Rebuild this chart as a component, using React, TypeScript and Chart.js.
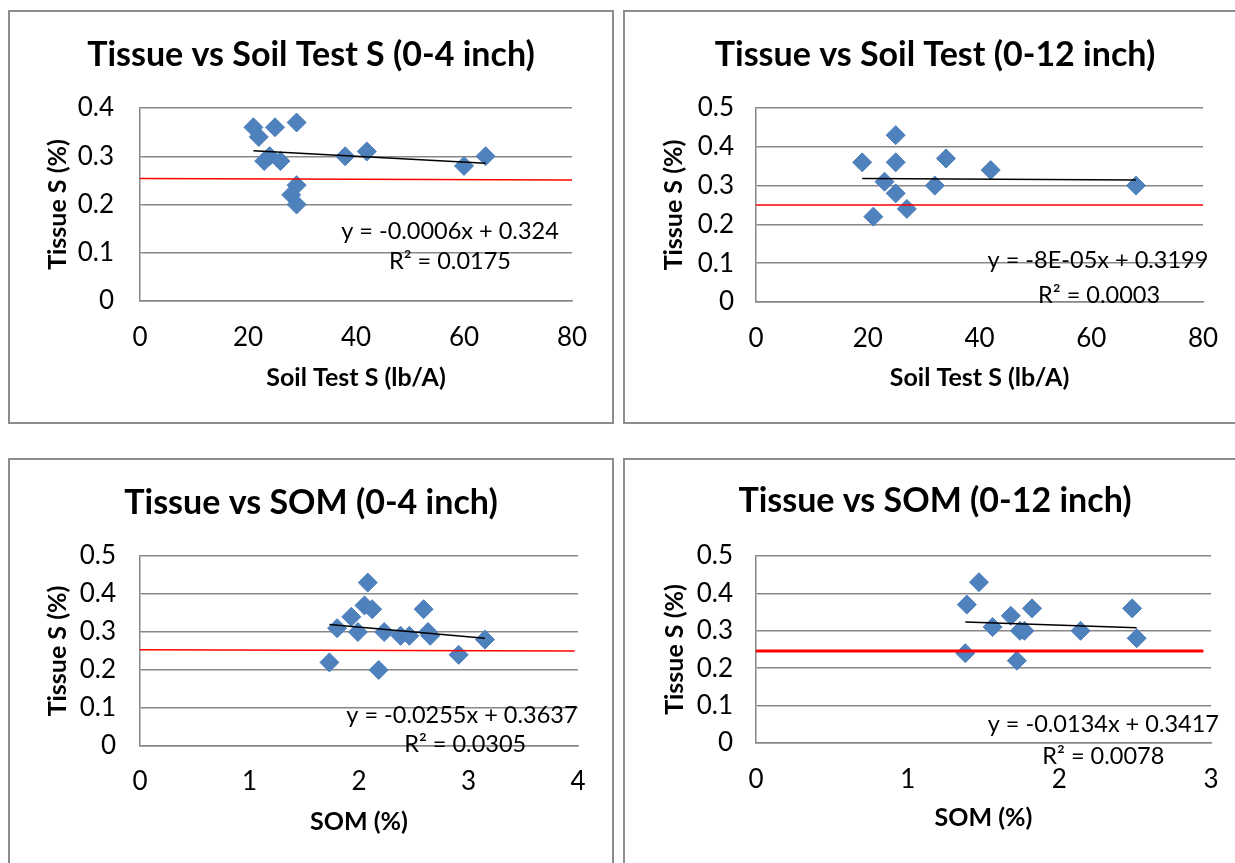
import React, { useEffect, useRef } from "react";
import { Chart, registerables } from "chart.js";
Chart.register(...registerables);

const FONT = "Lato, 'Open Sans', 'DejaVu Sans', sans-serif";

// ---------- Data ----------
// Panel 1: Tissue vs Soil Test S (0-4 inch)
const soilTest4 = [21, 22, 25, 29, 24, 23, 26, 29, 28, 29, 38, 42, 60, 64];
const tissueSoil4 = [0.36, 0.34, 0.36, 0.37, 0.3, 0.29, 0.29, 0.24, 0.22, 0.2, 0.3, 0.31, 0.28, 0.3];
const trendSoil4 = [-0.0006, 0.324]; // slope, intercept
const redSoil4X = [0, 80];
const redSoil4Y = [0.254, 0.251];

// Panel 2: Tissue vs Soil Test (0-12 inch)
const soilTest12 = [25, 19, 25, 34, 42, 23, 25, 32, 27, 21, 68];
const tissueSoil12 = [0.43, 0.36, 0.36, 0.37, 0.34, 0.31, 0.28, 0.3, 0.24, 0.22, 0.3];
const trendSoil12 = [-0.00008, 0.3199];
const redSoil12X = [0, 80];
const redSoil12Y = [0.25, 0.25];

// Panel 3: Tissue vs SOM (0-4 inch)
const som4 = [2.08, 2.05, 2.12, 1.93, 2.59, 1.8, 1.99, 2.23, 2.38, 2.46, 2.63, 2.65, 3.15, 2.91, 1.73, 2.18];
const tissueSom4 = [0.43, 0.37, 0.36, 0.34, 0.36, 0.31, 0.3, 0.3, 0.29, 0.29, 0.3, 0.29, 0.28, 0.24, 0.22, 0.2];
const trendSom4 = [-0.0255, 0.3637];
const redSom4X = [0, 3.97];
const redSom4Y = [0.253, 0.25];

// Panel 4: Tissue vs SOM (0-12 inch)
const som12 = [1.47, 1.39, 1.82, 2.48, 1.68, 1.56, 1.74, 1.77, 2.14, 2.51, 1.38, 1.72];
const tissueSom12 = [0.43, 0.37, 0.36, 0.36, 0.34, 0.31, 0.3, 0.3, 0.3, 0.28, 0.24, 0.22];
const trendSom12 = [-0.0134, 0.3417];
const redSom12X = [0, 2.95];
const redSom12Y = [0.246, 0.246];

const titles = [
  "Tissue vs Soil Test S (0-4 inch)",
  "Tissue vs Soil Test (0-12 inch)",
  "Tissue vs SOM (0-4 inch)",
  "Tissue vs SOM (0-12 inch)",
];
const xTitles = ["Soil Test S (lb/A)", "Soil Test S (lb/A)", "SOM (%)", "SOM (%)"];
const yTitle = "Tissue S (%)";
const equations = [
  "y = -0.0006x + 0.324",
  "y = -8E-05x + 0.3199",
  "y = -0.0255x + 0.3637",
  "y = -0.0134x + 0.3417",
];
const rSquared = ["R² = 0.0175", "R² = 0.0003", "R² = 0.0305", "R² = 0.0078"];
const xMaxes = [80, 80, 4, 3];
const xSteps = [20, 20, 1, 1];
const yMaxes = [0.4, 0.5, 0.5, 0.5];

// ---------- Layout (pixels) ----------
const panels = [
  { left: 8, top: 10, W: 606, H: 414, L: 132, R: 564, T: 98, B: 291, titleC: 45, yTickPad: 26, yTitleC: 50, xTickC: 37, xTitleC: 368, eq: [57.4, 0.145, 57.4, 0.083], redW: 1.5 },
  { left: 623, top: 10, W: 624, H: 414, L: 133, R: 580, T: 98, B: 292, titleC: 45, yTickPad: 22, yTitleC: 51, xTickC: 37, xTitleC: 368, eq: [61.2, 0.108, 61.4, 0.017], redW: 1.5 },
  { left: 8, top: 458, W: 606, H: 414, L: 132, R: 570, T: 98, B: 288, titleC: 45, yTickPad: 24, yTitleC: 50, xTickC: 36, xTitleC: 364, eq: [2.94, 0.081, 2.97, 0.003], redW: 1.5 },
  { left: 623, top: 458, W: 624, H: 414, L: 133, R: 588, T: 98, B: 285, titleC: 43, yTickPad: 23, yTitleC: 52, xTickC: 37, xTitleC: 360, eq: [2.29, 0.049, 2.29, -0.036], redW: 3 },
];

const seriesX = [soilTest4, soilTest12, som4, som12];
const seriesY = [tissueSoil4, tissueSoil12, tissueSom4, tissueSom12];
const trends = [trendSoil4, trendSoil12, trendSom4, trendSom12];
const redXs = [redSoil4X, redSoil12X, redSom4X, redSom12X];
const redYs = [redSoil4Y, redSoil12Y, redSom4Y, redSom12Y];

const GRID = "#878787";
const BLUE = "#4f81bd";

const eqPlugin = {
  id: "eqLabels",
  afterDatasetsDraw(chart: any, _args: any, opts: any) {
    if (!opts || !opts.labels) return;
    const { ctx, scales } = chart;
    ctx.save();
    ctx.font = `${opts.size}px ${FONT}`;
    ctx.fillStyle = "#000";
    ctx.textAlign = "center";
    ctx.textBaseline = "middle";
    for (const l of opts.labels) {
      ctx.fillText(l.text, scales.x.getPixelForValue(l.x), scales.y.getPixelForValue(l.y));
    }
    ctx.restore();
  },
};

function Panel({ idx }: { idx: number }) {
  const ref = useRef<HTMLCanvasElement | null>(null);
  const p = panels[idx];
  useEffect(() => {
    if (!ref.current) return;
    const xs = seriesX[idx];
    const ys = seriesY[idx];
    const [slope, intercept] = trends[idx];
    const xmin = Math.min(...xs);
    const xmax = Math.max(...xs);
    const side = p.W - p.R; // symmetric side padding so the title is centred in the panel
    const titleSize = 34;
    const titleLH = titleSize * 1.2;
    const tp = p.titleC - titleLH / 2;
    const bp = p.T - titleLH - tp;
    const tickSize = 26;
    const axTitleSize = 25;
    const axLH = axTitleSize * 1.2;
    const xScaleH = p.H - 8 - p.B;
    const yScaleW = p.L - side;
    const xTitlePadB = p.H - 8 - p.xTitleC - axLH / 2;
    const yTitlePadT = p.yTitleC - side - axLH / 2;

    const chart = new Chart(ref.current, {
      type: "scatter",
      data: {
        datasets: [
          {
            label: "Trend",
            data: [
              { x: xmin, y: slope * xmin + intercept },
              { x: xmax, y: slope * xmax + intercept },
            ],
            showLine: true,
            pointRadius: 0,
            borderColor: "#000",
            borderWidth: 1.5,
            order: 0,
          },
          {
            label: "Threshold",
            data: redXs[idx].map((x, i) => ({ x, y: redYs[idx][i] })),
            showLine: true,
            pointRadius: 0,
            borderColor: "#ff0000",
            borderWidth: p.redW,
            order: 1,
          },
          {
            label: "Tissue S",
            data: xs.map((x, i) => ({ x, y: ys[i] })),
            pointStyle: "rectRot",
            pointRadius: 9.5,
            pointBackgroundColor: BLUE,
            pointBorderColor: "#4a7ebb",
            pointBorderWidth: 1,
            order: 2,
          },
        ],
      },
      options: {
        animation: false,
        responsive: false,
        devicePixelRatio: 1,
        layout: { padding: { left: side, right: side, top: 0, bottom: 8 } },
        plugins: {
          legend: { display: false },
          tooltip: { enabled: false },
          title: {
            display: true,
            text: titles[idx],
            color: "#000",
            font: { family: FONT, size: titleSize, weight: "bold", lineHeight: 1.2 },
            padding: { top: tp, bottom: bp },
          },
          eqLabels: {
            size: 23.5,
            labels: [
              { text: equations[idx], x: p.eq[0], y: p.eq[1] },
              { text: rSquared[idx], x: p.eq[2], y: p.eq[3] },
            ],
          },
        } as any,
        scales: {
          x: {
            type: "linear",
            min: 0,
            max: xMaxes[idx],
            ticks: {
              stepSize: xSteps[idx],
              padding: p.xTickC - tickSize * 0.6,
              color: "#000",
              font: { family: FONT, size: tickSize, lineHeight: 1.2 },
              maxRotation: 0,
            },
            grid: { display: false, drawTicks: false },
            border: { display: true, color: GRID, width: 1.5 },
            title: {
              display: true,
              text: xTitles[idx],
              color: "#000",
              font: { family: FONT, size: axTitleSize, weight: "bold", lineHeight: 1.2 },
              padding: { top: 0, bottom: xTitlePadB },
            },
            afterFit: (s: any) => {
              s.height = xScaleH;
            },
          },
          y: {
            type: "linear",
            min: 0,
            max: yMaxes[idx],
            ticks: {
              stepSize: 0.1,
              padding: p.yTickPad,
              color: "#000",
              font: { family: FONT, size: tickSize, lineHeight: 1.2 },
              callback: (v: any) => String(Number(Number(v).toFixed(1))),
            },
            grid: { color: GRID, lineWidth: 1.5, drawTicks: false },
            border: { display: true, color: GRID, width: 1.5 },
            title: {
              display: true,
              text: yTitle,
              color: "#000",
              font: { family: FONT, size: axTitleSize, weight: "bold", lineHeight: 1.2 },
              padding: { top: yTitlePadT, bottom: 0 },
            },
            afterFit: (s: any) => {
              s.width = yScaleW;
            },
          },
        },
      },
      plugins: [eqPlugin],
    } as any);
    return () => chart.destroy();
  }, [idx]);

  return (
    <div style={{ position: "absolute", left: p.left, top: p.top, width: p.W, height: p.H }}>
      <canvas
        ref={ref}
        width={p.W}
        height={p.H}
        style={{ position: "absolute", left: 0, top: 0, width: p.W, height: p.H }}
      />
      <div
        style={{
          position: "absolute",
          left: 0,
          top: 0,
          width: p.W,
          height: p.H,
          boxSizing: "border-box",
          border: "2px solid #8c8c8c",
          pointerEvents: "none",
        }}
      />
    </div>
  );
}

export default function App() {
  return (
    <div
      style={{
        position: "fixed",
        left: 0,
        top: 0,
        width: 1235,
        height: 863,
        overflow: "hidden",
        background: "#fff",
      }}
    >
      {[0, 1, 2, 3].map((i) => (
        <Panel key={i} idx={i} />
      ))}
    </div>
  );
}
